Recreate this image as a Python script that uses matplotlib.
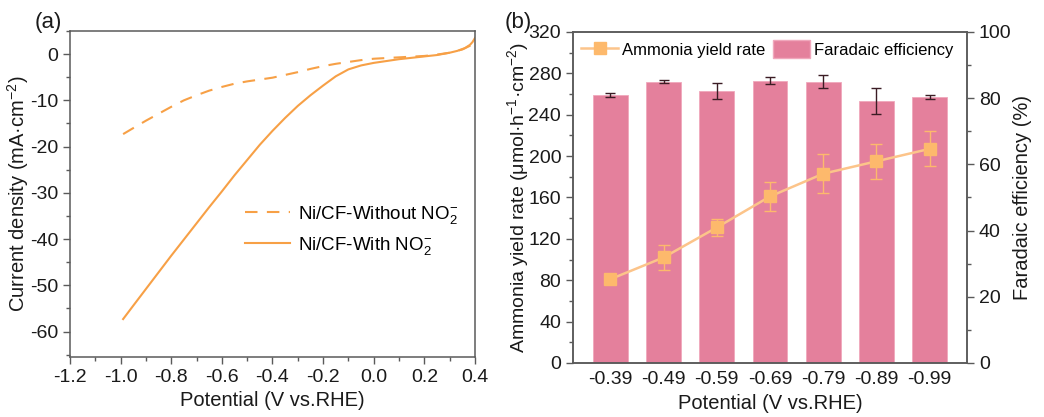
import matplotlib
matplotlib.use("Agg")
import matplotlib.pyplot as plt
from matplotlib.ticker import MultipleLocator
from matplotlib.lines import Line2D
from matplotlib.patches import Patch

plt.rcParams['font.family'] = ['Liberation Sans', 'DejaVu Sans']
plt.rcParams['mathtext.fontset'] = 'custom'
plt.rcParams['mathtext.rm'] = 'Liberation Sans'
plt.rcParams['mathtext.it'] = 'Liberation Sans'
plt.rcParams['mathtext.default'] = 'regular'
plt.rcParams['axes.unicode_minus'] = False

# ---- LSV curves (panel a) ----
pot_with = [-0.99, -0.95, -0.90, -0.85, -0.80, -0.75, -0.70, -0.65, -0.60, -0.55,
            -0.50, -0.45, -0.40, -0.35, -0.30, -0.25, -0.20, -0.15, -0.10, -0.05,
            0.00, 0.05, 0.10, 0.15, 0.20, 0.25, 0.30, 0.33, 0.36, 0.38, 0.39, 0.40]
cur_with = [-57.3, -54.4, -50.8, -47.2, -43.6, -40.1, -36.6, -33.1, -29.7, -26.2,
            -22.9, -19.6, -16.6, -13.8, -11.2, -8.9, -6.8, -4.8, -3.3, -2.45,
            -1.9, -1.5, -1.1, -0.8, -0.5, -0.2, 0.3, 0.7, 1.3, 2.0, 2.6, 3.5]
pot_without = [-0.99, -0.95, -0.90, -0.85, -0.80, -0.75, -0.70, -0.65, -0.60, -0.55,
               -0.50, -0.45, -0.40, -0.35, -0.30, -0.25, -0.20, -0.15, -0.10, -0.05,
               0.00, 0.05, 0.10, 0.15, 0.20, 0.25, 0.30, 0.35, 0.38, 0.40]
cur_without = [-17.3, -16.0, -14.4, -12.9, -11.4, -10.0, -8.9, -7.9, -7.1, -6.4,
               -5.9, -5.5, -5.1, -4.5, -3.9, -3.2, -2.6, -2.1, -1.7, -1.3,
               -1.0, -0.85, -0.7, -0.55, -0.4, -0.1, 0.3, 1.0, 1.8, 3.0]

# ---- Electrolysis results (panel b) ----
potentials = ['-0.39', '-0.49', '-0.59', '-0.69', '-0.79', '-0.89', '-0.99']
yield_rate = [81, 102, 131, 161, 183, 195, 207]
yield_err = [3, 12, 8, 14, 19, 17, 17]
faradaic_eff = [81.0, 85.0, 82.2, 85.3, 85.0, 79.1, 80.3]
faradaic_err = [0.6, 0.4, 2.5, 1.0, 1.9, 3.9, 0.6]

LINE_A = '#F7A046'
BAR_C = '#E4809C'
YIELD_C = '#FDB96C'
YIELD_LINE = '#FCC48A'
ERR_FE = '#3B1C24'
SPINE = '#5a5a5a'
TXT = '#1a1a1a'

TICK_FS = 14
LABEL_FS = 14.5

fig = plt.figure(figsize=(10.44, 4.17), dpi=100)


def style_spines(ax):
    for s in ax.spines.values():
        s.set_color(SPINE)
        s.set_linewidth(1.1)
    ax.tick_params(which='both', direction='out', colors=SPINE, labelcolor=TXT,
                   labelsize=TICK_FS)
    ax.tick_params(which='major', length=5, width=1.0)
    ax.tick_params(which='minor', length=3, width=1.0)


# Panel (a): linear sweep voltammetry
axa = fig.add_axes([0.067, 0.1439, 0.388, 0.7818])
axa.plot(pot_without, cur_without, color=LINE_A, lw=1.5, ls=(0, (6.0, 4.5)),
         label='Ni/CF-Without NO$_2^{-}$')
axa.plot(pot_with, cur_with, color=LINE_A, lw=1.5, label='Ni/CF-With NO$_2^{-}$')
axa.set_xlim(-1.2, 0.4)
axa.set_ylim(-65.5, 5)
axa.set_xticks([-1.2, -1.0, -0.8, -0.6, -0.4, -0.2, 0.0, 0.2, 0.4])
axa.set_xticklabels(['-1.2', '-1.0', '-0.8', '-0.6', '-0.4', '-0.2', '0.0', '0.2', '0.4'])
axa.xaxis.set_minor_locator(MultipleLocator(0.1))
axa.yaxis.set_major_locator(MultipleLocator(10))
axa.yaxis.set_minor_locator(MultipleLocator(5))
style_spines(axa)
axa.set_xlabel('Potential (V vs.RHE)', fontsize=LABEL_FS, color=TXT)
axa.set_ylabel('Current density (mA·cm$^{-2}$)', fontsize=LABEL_FS, color=TXT)
axa.xaxis.set_label_coords(0.5, -0.104)
axa.yaxis.set_label_coords(-0.095, 0.5)
axa.legend(loc='lower right', bbox_to_anchor=(1.0, 0.255), frameon=False, fontsize=13.5,
           handlelength=2.4, handletextpad=0.4, labelspacing=0.5)
fig.text(0.033, 0.945, '(a)', fontsize=16, ha='left', va='center', color=TXT)

# Panel (b): yield rate on the left axis, faradaic efficiency bars on the right axis
axb = fig.add_axes([0.5489, 0.1295, 0.3773, 0.7938])
axf = axb.twinx()
x = list(range(len(potentials)))
axf.bar(x, faradaic_eff, width=0.65, color=BAR_C, edgecolor='#F0A8BC', linewidth=0.6,
        yerr=faradaic_err, ecolor=ERR_FE, capsize=3.5,
        error_kw=dict(elinewidth=1.0, capthick=1.0))
axf.set_ylim(0, 100)
axf.yaxis.set_major_locator(MultipleLocator(20))
axf.yaxis.set_minor_locator(MultipleLocator(10))

axb.errorbar(x, yield_rate, yerr=yield_err, color=YIELD_LINE, lw=1.8, marker='s',
             markersize=9, markerfacecolor=YIELD_C, markeredgecolor=YIELD_C,
             ecolor=YIELD_C, elinewidth=1.0, capsize=4, capthick=1.0)
axb.set_zorder(axf.get_zorder() + 1)
axb.patch.set_visible(False)
axb.set_xlim(-0.7, 6.7)
axb.set_ylim(0, 320)
axb.yaxis.set_major_locator(MultipleLocator(40))
axb.yaxis.set_minor_locator(MultipleLocator(20))
axb.set_xticks(x)
axb.set_xticklabels(potentials)
style_spines(axb)
style_spines(axf)
axb.tick_params(axis='x', which='major', length=0, pad=6)
axb.set_xlabel('Potential (V vs.RHE)', fontsize=LABEL_FS, color=TXT)
axb.set_ylabel('Ammonia yield rate (μmol·h$^{-1}$·cm$^{-2}$)', fontsize=14, color=TXT)
axf.set_ylabel('Faradaic efficiency (%)', fontsize=LABEL_FS, color=TXT)
axb.xaxis.set_label_coords(0.5, -0.094)
axb.yaxis.set_label_coords(-0.108, 0.5)
axf.yaxis.set_label_coords(1.117, 0.5)

h_yield = Line2D([], [], color=YIELD_LINE, lw=1.8, marker='s', markersize=9,
                 markerfacecolor=YIELD_C, markeredgecolor=YIELD_C)
h_fe = Patch(facecolor=BAR_C, edgecolor='#F0A8BC')
axb.legend([h_yield, h_fe], ['Ammonia yield rate', 'Faradaic efficiency'],
           loc='upper left', bbox_to_anchor=(0.0, 1.0), ncol=2, frameon=False,
           fontsize=12, handlelength=2.2, handleheight=1.3, handletextpad=0.25,
           columnspacing=0.45, borderaxespad=0.2, borderpad=0.3)
fig.text(0.483, 0.945, '(b)', fontsize=16, ha='left', va='center', color=TXT)

fig.savefig('out.png', dpi=100)
